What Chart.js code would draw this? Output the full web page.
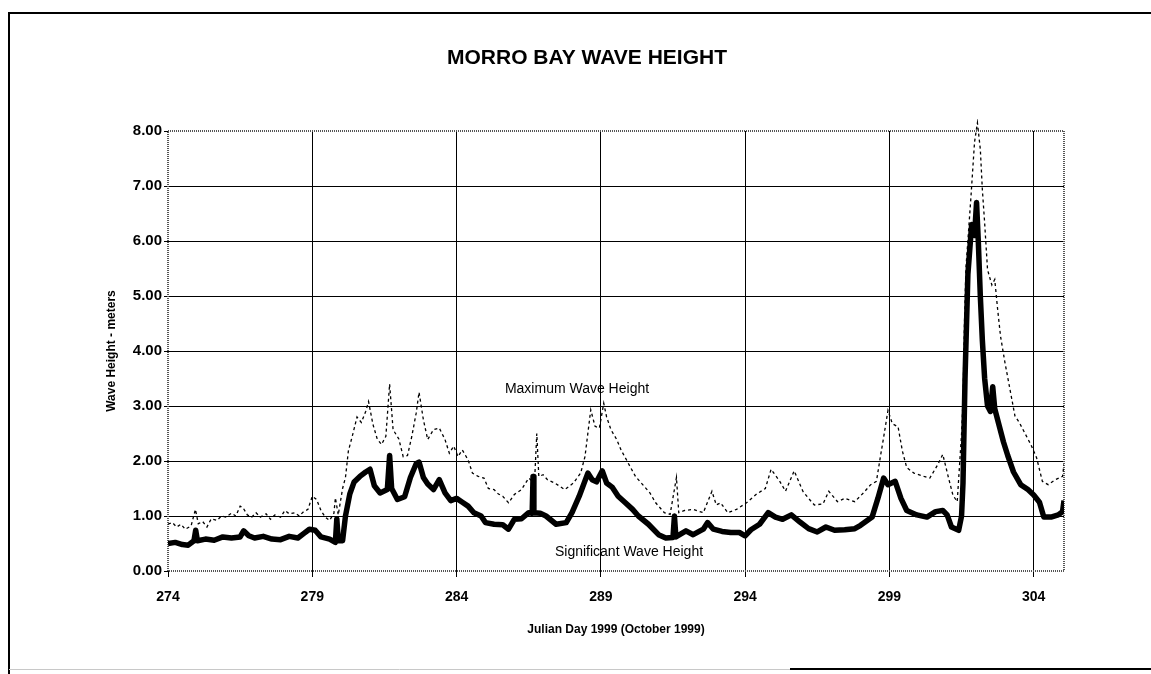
<!DOCTYPE html>
<html>
<head>
<meta charset="utf-8">
<script src="https://cdn.jsdelivr.net/npm/chart.js@4/dist/chart.umd.min.js"></script>
<style>
html,body{margin:0;padding:0;background:#fff;}
#wrap{position:relative;width:1151px;height:674px;}
</style>
</head>
<body>
<div id="wrap"><canvas id="c" width="1151" height="674"></canvas></div>
<script>
const chartTitle = 'MORRO BAY WAVE HEIGHT';
const xAxisTitle = 'Julian Day 1999 (October 1999)';
const yAxisTitle = 'Wave Height - meters';
const labelMax = 'Maximum Wave Height';
const labelSig = 'Significant Wave Height';
const xTicks = [274, 279, 284, 289, 294, 299, 304];
const yTicks = [0, 1, 2, 3, 4, 5, 6, 7, 8];

const sigDays = [274.00,274.25,274.50,274.70,274.90,274.96,275.02,275.30,275.60,275.90,276.20,276.50,276.62,276.80,277.00,277.30,277.60,277.90,278.20,278.50,278.70,278.90,279.10,279.30,279.60,279.80,279.85,279.90,280.05,280.15,280.30,280.45,280.65,280.85,281.00,281.15,281.35,281.60,281.68,281.75,281.95,282.20,282.40,282.60,282.70,282.85,283.00,283.20,283.40,283.60,283.80,284.00,284.20,284.40,284.60,284.85,285.00,285.30,285.60,285.80,286.00,286.25,286.50,286.62,286.65,286.68,286.90,287.10,287.45,287.80,288.00,288.25,288.55,288.70,288.85,289.05,289.20,289.40,289.60,289.85,290.10,290.30,290.65,291.00,291.25,291.50,291.55,291.60,291.95,292.20,292.55,292.70,292.90,293.20,293.50,293.80,294.00,294.20,294.50,294.80,295.05,295.30,295.60,295.90,296.20,296.50,296.80,297.10,297.45,297.80,298.00,298.40,298.60,298.80,298.95,299.20,299.40,299.60,299.95,300.30,300.60,300.85,301.00,301.15,301.40,301.50,301.55,301.62,301.72,301.85,301.95,302.02,302.08,302.15,302.22,302.30,302.40,302.50,302.58,302.65,302.80,302.95,303.10,303.30,303.55,303.80,304.00,304.20,304.35,304.60,304.85,305.00,305.05];
const sigVals = [0.50,0.52,0.48,0.47,0.55,0.74,0.55,0.58,0.56,0.62,0.60,0.62,0.73,0.64,0.60,0.63,0.58,0.57,0.63,0.60,0.68,0.76,0.74,0.62,0.58,0.52,0.95,0.55,0.55,1.00,1.40,1.62,1.72,1.80,1.85,1.55,1.42,1.48,2.10,1.50,1.30,1.35,1.70,1.95,1.98,1.70,1.58,1.48,1.66,1.42,1.28,1.32,1.25,1.18,1.06,1.00,0.88,0.85,0.84,0.76,0.94,0.95,1.06,1.05,1.72,1.06,1.05,1.00,0.85,0.88,1.06,1.36,1.78,1.66,1.62,1.82,1.60,1.52,1.36,1.24,1.12,1.00,0.85,0.66,0.60,0.61,1.00,0.62,0.73,0.66,0.76,0.88,0.76,0.72,0.70,0.70,0.64,0.75,0.85,1.06,0.98,0.94,1.02,0.89,0.77,0.71,0.80,0.74,0.75,0.77,0.83,0.98,1.32,1.69,1.57,1.63,1.32,1.10,1.02,0.98,1.08,1.10,1.02,0.80,0.74,1.00,1.60,3.50,5.40,6.30,6.10,6.70,6.00,5.00,4.20,3.50,3.00,2.90,3.35,2.95,2.65,2.35,2.10,1.80,1.57,1.48,1.38,1.25,0.98,0.98,1.02,1.08,1.28];

const maxDays = [274.00,274.15,274.30,274.45,274.60,274.80,274.95,275.05,275.20,275.35,275.50,275.70,275.85,276.00,276.20,276.35,276.50,276.60,276.75,276.90,277.05,277.20,277.40,277.55,277.70,277.90,278.05,278.20,278.40,278.55,278.70,278.85,279.00,279.15,279.30,279.45,279.60,279.75,279.80,279.90,280.05,280.15,280.25,280.40,280.55,280.70,280.85,280.95,281.10,281.25,281.40,281.55,281.68,281.80,282.00,282.15,282.30,282.45,282.60,282.70,282.85,283.00,283.20,283.40,283.60,283.75,283.90,284.05,284.20,284.40,284.55,284.75,284.95,285.10,285.30,285.45,285.60,285.80,286.00,286.25,286.50,286.70,286.78,286.85,287.00,287.15,287.40,287.75,288.05,288.30,288.45,288.65,288.80,288.95,289.10,289.20,289.35,289.55,289.70,289.95,290.20,290.40,290.70,290.90,291.20,291.40,291.62,291.70,291.90,292.20,292.55,292.85,293.00,293.15,293.40,293.70,294.05,294.40,294.70,294.90,295.20,295.40,295.70,296.00,296.20,296.40,296.70,296.90,297.20,297.45,297.80,298.10,298.35,298.55,298.70,298.80,298.95,299.10,299.30,299.45,299.60,299.85,300.20,300.40,300.65,300.85,301.05,301.20,301.35,301.50,301.55,301.60,301.65,301.82,301.95,302.05,302.15,302.22,302.30,302.40,302.55,302.65,302.75,302.85,303.00,303.20,303.35,303.50,303.70,303.90,304.10,304.30,304.50,304.75,305.00,305.05];
const maxVals = [0.85,0.88,0.80,0.85,0.76,0.82,1.12,0.86,0.90,0.80,0.95,0.92,1.00,0.98,1.05,1.00,1.18,1.15,1.02,0.98,1.06,0.98,1.04,0.94,1.02,0.98,1.10,1.04,1.06,1.00,1.08,1.12,1.36,1.30,1.10,0.98,0.92,1.05,1.33,1.02,1.50,1.70,2.18,2.48,2.80,2.70,2.90,3.08,2.67,2.40,2.30,2.45,3.40,2.57,2.40,2.08,2.10,2.45,2.87,3.25,2.75,2.39,2.57,2.60,2.39,2.14,2.27,2.08,2.20,2.02,1.78,1.72,1.69,1.50,1.48,1.40,1.36,1.24,1.39,1.48,1.69,1.60,2.50,1.72,1.75,1.66,1.60,1.48,1.60,1.78,2.08,2.93,2.63,2.60,3.05,2.80,2.57,2.39,2.20,1.96,1.72,1.60,1.42,1.24,1.06,1.03,1.70,1.06,1.10,1.12,1.06,1.45,1.20,1.24,1.06,1.12,1.24,1.40,1.50,1.85,1.63,1.45,1.82,1.45,1.32,1.20,1.22,1.45,1.26,1.32,1.26,1.42,1.57,1.63,2.12,2.43,2.92,2.68,2.62,2.18,1.88,1.78,1.72,1.69,1.91,2.12,1.69,1.38,1.26,2.50,3.10,4.50,5.50,6.76,7.80,8.15,7.67,6.94,6.33,5.48,5.20,5.30,4.76,4.27,3.80,3.24,2.82,2.70,2.50,2.30,2.06,1.63,1.57,1.66,1.72,1.94];

const FONT = "'Liberation Sans', Arial, Helvetica, sans-serif";

const framePlugin = {
  id: 'frame',
  beforeDraw(chart) {
    const ctx = chart.ctx;
    ctx.save();
    ctx.fillStyle = '#fff';
    ctx.fillRect(0, 0, chart.width, chart.height);
    ctx.strokeStyle = '#000';
    ctx.lineWidth = 2;
    ctx.beginPath();
    ctx.moveTo(9, 674); ctx.lineTo(9, 13); ctx.lineTo(1151, 13);
    ctx.stroke();
    ctx.strokeStyle = '#c8c8c8';
    ctx.lineWidth = 1;
    ctx.beginPath(); ctx.moveTo(9, 669.5); ctx.lineTo(790, 669.5); ctx.stroke();
    ctx.strokeStyle = '#000';
    ctx.lineWidth = 2;
    ctx.beginPath(); ctx.moveTo(790, 669); ctx.lineTo(1151, 669); ctx.stroke();
    ctx.restore();
  },
  beforeDatasetsDraw(chart) {
    const {ctx, chartArea: a} = chart;
    ctx.save();
    ctx.strokeStyle = '#555';
    ctx.lineWidth = 2;
    ctx.setLineDash([1, 1]);
    ctx.strokeRect(a.left, a.top, a.right - a.left, a.bottom - a.top);
    ctx.restore();
  },
  afterDraw(chart) {
    const ctx = chart.ctx;
    ctx.save();
    ctx.fillStyle = '#000';
    ctx.textAlign = 'center';
    ctx.textBaseline = 'middle';
    ctx.font = 'bold 21px ' + FONT;
    ctx.fillText(chartTitle, 587, 58);
    ctx.font = '14px ' + FONT;
    ctx.fillText(labelMax, 577, 389);
    ctx.fillText(labelSig, 629, 552);
    ctx.restore();
  }
};

const toPts = (xs, ys) => xs.map((x, i) => ({x: x, y: ys[i]}));

new Chart(document.getElementById('c'), {
  type: 'line',
  data: {
    datasets: [
      {
        label: labelMax,
        data: toPts(maxDays, maxVals),
        borderColor: '#000',
        borderWidth: 1.3,
        borderDash: [3, 3],
        pointRadius: 0,
        tension: 0,
        clip: {left: 0, right: 0, top: 12, bottom: 0}
      },
      {
        label: labelSig,
        data: toPts(sigDays, sigVals),
        borderColor: '#000',
        borderWidth: 5.5,
        pointRadius: 0,
        tension: 0,
        borderJoinStyle: 'round'
      }
    ]
  },
  options: {
    responsive: false,
    animation: false,
    devicePixelRatio: 1,
    layout: {padding: {top: 131, right: 87, bottom: 0, left: 0}},
    plugins: {legend: {display: false}, title: {display: false}, tooltip: {enabled: false}},
    scales: {
      x: {
        type: 'linear',
        min: 274,
        max: 305.05,
        afterBuildTicks: s => { s.ticks = xTicks.map(v => ({value: v})); },
        afterFit: s => { s.height = 103; },
        ticks: {
          color: '#000',
          font: {family: FONT, size: 14, weight: 'bold'},
          padding: 12,
          maxRotation: 0,
          autoSkip: false,
          callback: v => String(v)
        },
        grid: {
          color: c => (c.tick && c.tick.value === 274) ? 'rgba(0,0,0,0)' : '#000',
          tickColor: '#000',
          lineWidth: 1,
          tickLength: 6
        },
        border: {display: false},
        title: {
          display: true,
          text: xAxisTitle,
          color: '#000',
          font: {family: FONT, size: 12, weight: 'bold'},
          padding: {top: 0, bottom: 36.8}
        }
      },
      y: {
        min: 0,
        max: 8,
        afterBuildTicks: s => { s.ticks = yTicks.map(v => ({value: v})); },
        afterFit: s => { s.width = 168; },
        ticks: {
          color: '#000',
          font: {family: FONT, size: 15, weight: 'bold'},
          padding: 2,
          callback: v => Number(v).toFixed(2)
        },
        grid: {
          color: c => (c.tick && (c.tick.value === 0 || c.tick.value === 8)) ? 'rgba(0,0,0,0)' : '#000',
          tickColor: '#000',
          lineWidth: 1,
          tickLength: 4
        },
        border: {display: false},
        title: {
          display: true,
          text: yAxisTitle,
          color: '#000',
          font: {family: FONT, size: 12, weight: 'bold'},
          padding: {top: 104.8, bottom: 0}
        }
      }
    }
  },
  plugins: [framePlugin]
});
</script>
</body>
</html>
